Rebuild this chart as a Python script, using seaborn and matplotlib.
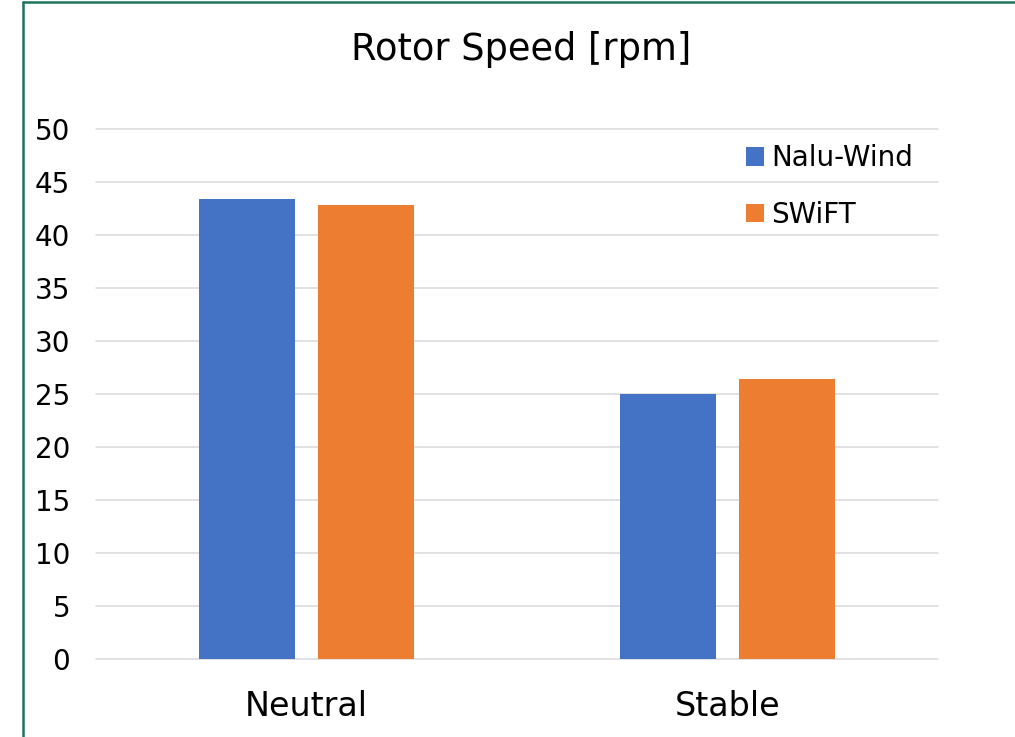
import matplotlib
matplotlib.use("Agg")
import matplotlib.pyplot as plt
import seaborn as sns
import pandas as pd
from matplotlib.lines import Line2D
from matplotlib.patches import Patch

categories = ["Neutral", "Stable"]
series_names = ["Nalu-Wind", "SWiFT"]
nalu_wind = [43.4, 25.0]
swift = [42.8, 26.4]
yticks = [0, 5, 10, 15, 20, 25, 30, 35, 40, 45, 50]
title = "Rotor Speed [rpm]"
colors = ["#4472C4", "#ED7D31"]

df = pd.DataFrame({
    "Condition": categories * 2,
    "Model": [series_names[0]] * 2 + [series_names[1]] * 2,
    "Value": nalu_wind + swift,
})

sns.set_theme(style="white")
plt.rcParams["font.family"] = ["DejaVu Sans"]
plt.rcParams["text.color"] = "black"

W, H = 1015, 737
fig = plt.figure(figsize=(W / 100, H / 100), dpi=100)
ax = fig.add_axes([96 / W, 1 - 659 / H, (938 - 96) / W, (659 - 129) / H])

sns.barplot(data=df, x="Condition", y="Value", hue="Model", order=categories,
            hue_order=series_names, palette=colors, width=0.565, gap=0.2,
            saturation=1, linewidth=0, ax=ax, legend=False, zorder=3)

ax.set_ylim(0, 50)
ax.set_yticks(yticks)
ax.set_yticklabels([str(v) for v in yticks])
ax.set_xlim(-0.5, 1.5)
ax.yaxis.grid(True, color="#D9D9D9", linewidth=1.1, zorder=0)
for gl in ax.get_ygridlines():
    gl.set_clip_on(False)
ax.set_axisbelow(True)
for s in ax.spines.values():
    s.set_visible(False)
ax.set_xlabel("")
ax.set_ylabel("")
ax.tick_params(axis="y", length=0, pad=18.5, labelsize=20, labelcolor="black")
ax.tick_params(axis="x", length=0, pad=22, labelsize=24, labelcolor="black")

fig.text(521 / W, 1 - 60 / H, title, ha="center", va="baseline", fontsize=26.5, color="black")

handles = [Patch(facecolor=c, edgecolor="none") for c in colors]
fig.legend(handles, series_names, loc="upper left", bbox_to_anchor=(746 / W, 1 - 144 / H),
           frameon=False, fontsize=20, handlelength=0.65, handleheight=0.65,
           handletextpad=0.25, labelspacing=1.03, borderpad=0, borderaxespad=0,
           labelcolor="black")

# green frame (top and left edge, as in the reference crop)
fig.add_artist(Line2D([23 / W, 1.0], [1 - 2.3 / H, 1 - 2.3 / H], transform=fig.transFigure,
                      color="#1C735E", linewidth=1.8))
fig.add_artist(Line2D([23 / W, 23 / W], [0.0, 1 - 2.3 / H], transform=fig.transFigure,
                      color="#1C735E", linewidth=1.8))

fig.savefig("out.png", dpi=100)
